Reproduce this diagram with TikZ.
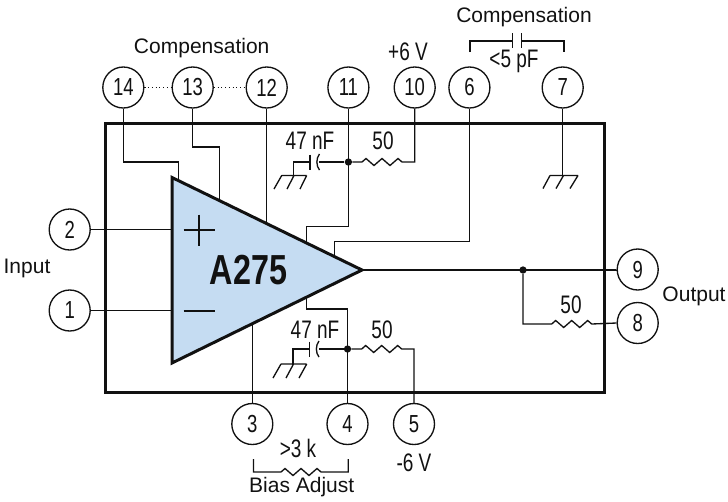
\documentclass[tikz,border=0pt]{standalone}
\usepackage{fontspec}
\setmainfont{Liberation Sans}
\newfontfamily\narrowfont[FakeStretch=0.75]{Liberation Sans}
\newfontfamily\ampfont[FakeStretch=0.77]{Liberation Sans}
\definecolor{ampblue}{HTML}{C5DCF2}
\definecolor{ink}{HTML}{111111}
\def\zigzag{-- ++(4,-3.5) -- ++(8,7) -- ++(8,-7) -- ++(8,7) -- ++(8,-7) -- ++(4,3.5)}
\tikzset{
  wire/.style={draw=ink,line width=1pt,line join=miter},
  pin/.style={circle,draw=ink,line width=1pt,minimum size=30.75pt,inner sep=0pt,text=ink,
    font=\narrowfont\fontsize{18.5}{21}\selectfont},
  widelabel/.style={inner sep=0pt,text=ink,font=\fontsize{15.75}{18}\selectfont},
  narrowlabel/.style={inner sep=0pt,text=ink,font=\narrowfont\fontsize{19}{22}\selectfont},
  junction/.style={circle,fill=ink,inner sep=0pt,minimum size=5.5pt},
  plate/.style={draw=ink,line width=1pt}
}
\begin{document}
\begin{tikzpicture}[x=0.75pt,y=-0.75pt]
\useasboundingbox (0,0) rectangle (728,501);
% package outline
\node[draw=ink,line width=2.25pt,inner sep=0pt,minimum width=374.25pt,minimum height=201.75pt,anchor=north west] (pkg) at (104,122) {};
% pins
\node[pin] (n14) at (123.3,87.5) {14};
\node[pin] (n13) at (192.7,87.5) {13};
\node[pin] (n12) at (266.7,87.5) {12};
\node[pin] (n11) at (348.4,87.5) {11};
\node[pin] (n10) at (414.7,87.5) {10};
\node[pin] (n6) at (469.4,87.5) {6};
\node[pin] (n7) at (562.7,87.5) {7};
\node[pin] (n2) at (69.7,229.5) {2};
\node[pin] (n1) at (69.7,310.5) {1};
\node[pin] (n3) at (252.3,424) {3};
\node[pin] (n4) at (347.5,424) {4};
\node[pin] (n5) at (414,424) {5};
\node[pin] (n9) at (637.7,269.5) {9};
\node[pin] (n8) at (637.7,323) {8};
% amp coordinates
\coordinate (ampT) at (172,177.5);
\coordinate (ampB) at (172,363);
\coordinate (ampA) at (362,270);
\coordinate (e14) at (178.3,185);
\coordinate (e13) at (219.3,205);
\coordinate (e12) at (266.7,228);
\coordinate (e11) at (306.4,245);
\coordinate (e6) at (334.4,260);
\coordinate (e3) at (252.3,320);
\coordinate (e4) at (306.4,295);
\coordinate (iP) at (172,229.5);
\coordinate (iM) at (172,310.5);
% junctions
\node[junction] (jT) at (348.4,162) {};
\node[junction] (jB) at (347.5,349) {};
\node[junction] (jO) at (523,270) {};
% wires to the amplifier
\draw[wire] (n14.south) -- (123.3,162) -- (178.3,162) -- (e14);
\draw[wire] (n13.south) -- (192.7,147) -- (219.3,147) -- (e13);
\draw[wire] (n12.south) -- (e12);
\draw[wire] (n11.south) -- (348.4,226.4) -- (306.4,226.4) -- (e11);
\draw[wire] (n6.south) -- (469.4,241.4) -- (334.4,241.4) -- (e6);
\draw[wire] (n2.east) -- (iP);
\draw[wire] (n1.east) -- (iM);
\draw[wire] (n3.north) -- (e3);
\draw[wire] (n4.north) -- (347.5,309) -- (306.4,309) -- (e4);
% output
\draw[wire] (ampA) -- (n9.west |- ampA) -- (n9.west);
\draw[wire] (jO) -- (523,324) -- (551.7,324) \zigzag -- (n8.west);
% upper RC
\draw[wire] (jT) -- (362,162) \zigzag -- (414.7,162) -- (n10.south);
\draw[wire] (jT) -- (319,162);
\draw[plate] (319.5,154) .. controls (316,158) and (316,166) .. (319.5,170);
\draw[plate] (310,154.5) -- (310,170);
\draw[wire] (310,162) -- (293.3,162) -- (293.3,175.5);
\draw[wire] (281.7,175.5) -- (306.7,175.5) (281.7,175.5) -- (274,189) (294,175.5) -- (287,189) (306.7,175.5) -- (300,189);
% lower RC
\draw[wire] (jB) -- (361.7,349) \zigzag -- (414,349) -- (n5.north);
\draw[wire] (jB) -- (318.5,349);
\draw[plate] (319,341) .. controls (315.5,345) and (315.5,353) .. (319,357);
\draw[plate] (309.5,341.5) -- (309.5,357);
\draw[wire] (309.5,349) -- (293,349) -- (293,364);
\draw[wire] (281,364) -- (306.7,364) (281,364) -- (273,378) (293.5,364) -- (286,378) (306.7,364) -- (299,378);
% ground on pin 7
\draw[wire] (n7.south) -- (562.7,175.5);
\draw[wire] (550,175.5) -- (578,175.5) (550,175.5) -- (543,188.5) (563.5,175.5) -- (556,188.5) (578,175.5) -- (570,188.5);
% amplifier body
\draw[draw=ink,fill=ampblue,line width=2.25pt,line join=miter] (ampT) -- (ampA) -- (ampB) -- cycle;
\draw[draw=ink,line width=1.9pt] (183.5,230) -- (215,230) (199,214.5) -- (199,245.5);
\draw[draw=ink,line width=1.9pt] (183.5,311) -- (215,311);
\node[inner sep=0pt,text=ink,font=\ampfont\bfseries\fontsize{31.5}{34}\selectfont] (ampname) at (248.5,270) {A275};
% compensation dotted links
\draw[draw=ink,line width=.8pt,dotted] (n14.east) -- (n13.west);
\draw[draw=ink,line width=.8pt,dotted] (n13.east) -- (n12.west);
% compensation capacitor across 6 and 7
\coordinate (b6) at (470,52);
\coordinate (b7) at (564,52);
\draw[wire] (b6) -- (470,41) -- (512.7,41);
\draw[wire] (521.7,41) -- (564,41) -- (b7);
\draw[plate] (512.7,33) -- (512.7,48);
\draw[plate] (521.7,33) -- (521.7,48);
% bias adjust bracket
\coordinate (b3) at (253.5,459);
\coordinate (b4) at (348.3,459);
\draw[wire] (b3) -- (253.5,472) -- (281,472) \zigzag -- (348.3,472) -- (b4);
% labels
\node[widelabel] (lc1) at (201.7,47.7) {Compensation};
\node[widelabel] (lc2) at (524,17.5) {Compensation};
\node[widelabel] (lin) at (27,268) {Input};
\node[widelabel] (lout) at (694,296) {Output};
\node[widelabel] (lbias) at (301.7,487) {Bias Adjust};
\node[narrowlabel] (lp6) at (408,51.7) {+6 V};
\node[narrowlabel] (lm6) at (414,462.7) {-6 V};
\node[narrowlabel] (lpf) at (514,61) {<5 pF};
\node[narrowlabel] (lc47a) at (310,140.7) {47 nF};
\node[narrowlabel] (lc47b) at (315,330) {47 nF};
\node[narrowlabel] (lr50a) at (383,141) {50};
\node[narrowlabel] (lr50b) at (382,330) {50};
\node[narrowlabel] (lr50c) at (571,305) {50};
\node[narrowlabel] (lr3k) at (298,448) {>3 k};
\end{tikzpicture}
\end{document}
